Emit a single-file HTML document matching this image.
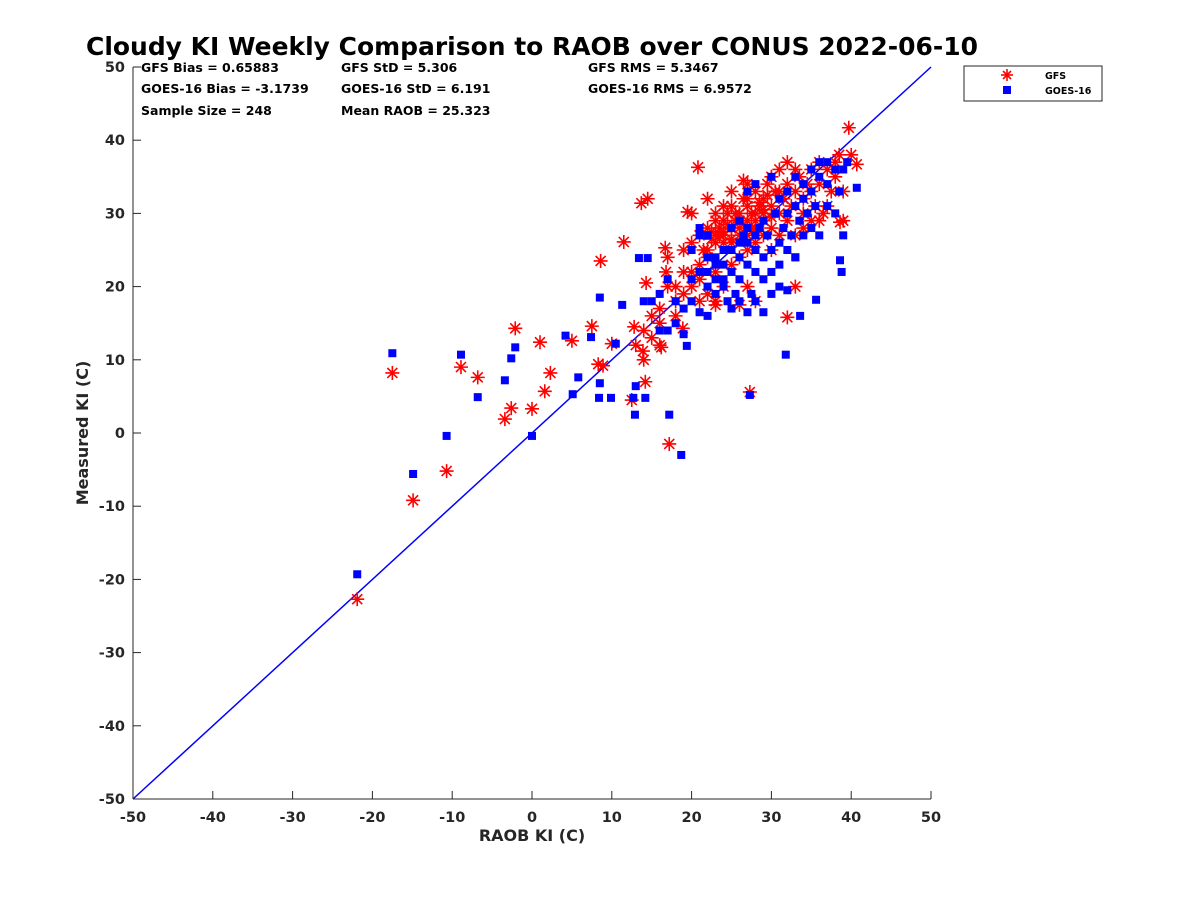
<!DOCTYPE html>
<html><head><meta charset="utf-8"><style>
body{margin:0;background:#fff;}
svg{display:block;font-family:"DejaVu Sans","Liberation Sans",sans-serif;}
</style></head><body>
<svg id="chart" width="1200" height="900">
<text x="532" y="55" text-anchor="middle" font-size="25" textLength="892" lengthAdjust="spacingAndGlyphs" font-weight="bold" fill="#000">Cloudy KI Weekly Comparison to RAOB over CONUS 2022-06-10</text>
<g font-size="12.5" font-weight="bold" fill="#000">
<text x="141" y="72">GFS Bias = 0.65883</text>
<text x="341" y="72">GFS StD = 5.306</text>
<text x="588" y="72">GFS RMS = 5.3467</text>
<text x="141" y="93">GOES-16 Bias = -3.1739</text>
<text x="341" y="93">GOES-16 StD = 6.191</text>
<text x="588" y="93">GOES-16 RMS = 6.9572</text>
<text x="141" y="115">Sample Size = 248</text>
<text x="341" y="115">Mean RAOB = 25.323</text>
</g>
<g id="plot"></g>
<g>
<rect x="964" y="66" width="138" height="35" fill="#fff" stroke="#262626" stroke-width="1"/>
<g stroke="#ff0000" stroke-width="1.6">
<line x1="1007" y1="69" x2="1007" y2="81"/><line x1="1001" y1="75" x2="1013" y2="75"/><line x1="1003" y1="71" x2="1011" y2="79"/><line x1="1003" y1="79" x2="1011" y2="71"/></g>
<rect x="1003" y="86" width="8" height="8" fill="#0000ff"/>
<text x="1045" y="79" font-size="9.5" font-weight="bold">GFS</text>
<text x="1045" y="94" font-size="9.5" font-weight="bold">GOES-16</text>
</g>
</svg>
<script>
const xTicks=[-50,-40,-30,-20,-10,0,10,20,30,40,50];
const yTicks=[-50,-40,-30,-20,-10,0,10,20,30,40,50];
const gfsX=[-21.9,-17.5,-14.9,-10.7,-8.9,-6.8,-3.4,-2.6,-2.1,0,1.0,1.6,2.3,5.0,7.5,8.3,8.6,8.9,10,11.5,12.5,12.8,13.9,13.7,14.5,14.2,14.3,16.2,16.7,17.2,16.8,18.9,19.5,20.8,27.3,32,33,39.7,40.7,38.6,
20,21,21.5,22,22.5,23,23,23.5,24,24,24.5,25,25,25.5,26,26,26.5,26.5,27,27,27.5,28,28,28.5,29,29,29.5,30,30,30.5,31,31,31.5,32,32,32.5,33,33,33.5,34,34,34.5,35,35,35.5,36,36,36.5,37,37.5,38,38,38.5,39,39,40,22,23,24,25,26,26,27,28,23,21,20,19,18,17,17,16,15,14,13,16,18,19,20,22,24,25,27,29,31,28,30,32,33,34,36,37,35,30,27,26,29,31,28,27,25,24,23,22,21,20,19,18,15,14,16,21,22,23,
22.5,23.5,24.5,25.5,26.5,27.5,28.5,29.5,24,26,28,25,27,29,23,30];
const gfsY=[-22.7,8.2,-9.2,-5.2,9.0,7.6,1.9,3.4,14.3,3.3,12.4,5.7,8.2,12.6,14.6,9.4,23.5,9.2,12.2,26.1,4.5,14.5,11.2,31.4,32,7.0,20.5,11.7,25.3,-1.5,22,14.3,30.2,36.3,5.6,15.8,20,41.7,36.7,28.8,
26,27,25,28,26.5,29,27,28,29,26,30,28,31,29,27,30,32,34.5,29,31,28,30,33,31,29,32,34,31,28,33,30,36,32,34,29,31,33,36,35,32,30,34,36,33,31,37,34,30,36,33,37,35,38,33,29,38,24,22,20,23,24,17.5,20,18,18,21,22,22,18,24,20,15,13,10,12,17,20,25,30,32,31,33,34,27,27,26,35,37,27,28,29,31,29,25,25,28,30,33,29,27,26,27,26,25,23,20,19,16,16,14,12,18,19,17.5,
27.5,27,28.5,30,28.5,30,31.5,32.5,27.5,29,28,26.5,32,30.5,30,29.5];
const goesX=[-21.9,-17.5,-14.9,-10.7,-8.9,-6.8,-3.4,-2.6,-2.1,0,4.2,5.1,5.8,7.4,8.5,8.5,8.4,9.9,10.5,11.3,12.7,12.9,13,13.4,14.2,14.5,17.2,18.7,19.4,27.3,31.8,33.6,35.6,38.6,38.8,40.7,
20,21,21,22,22,23,23,24,24,24.5,25,25,25.5,26,26,26.5,27,27,27.5,28,28,28.5,29,29,29.5,30,30,30.5,31,31,31.5,32,32,32.5,33,33,33.5,34,34,34.5,35,35,35.5,36,36,37,37,38,38,38.5,39,39.5,39,30,28,27,29,31,32,33,26,25,24,23,22,21,20,19,18,17,16,15,14,16,17,18,19,20,21,22,26,27,28,30,31,32,33,34,35,36,37,28,29,26,24,23,22,25,27];
const goesY=[-19.3,10.9,-5.6,-0.4,10.7,4.9,7.2,10.2,11.7,-0.4,13.3,5.3,7.6,13.1,18.5,6.8,4.8,4.8,12.2,17.5,4.8,2.5,6.4,23.9,4.8,23.9,2.5,-3,11.9,5.2,10.7,16,18.2,23.6,22,33.5,
21,22,27,20,24,19,23,21,25,18,22,28,19,24,21,27,23,26,19,22,25,28,24,21,27,25,22,30,26,23,28,25,30,27,31,24,29,32,27,30,33,28,31,35,27,34,31,36,30,33,36,37,27,19,18,16.5,16.5,20,19.5,24,18,17,20,24,16,16.5,18,17,18,21,19,18,18,14,14,15,13.5,25,28,27,29,33,34,35,32,33,35,34,36,37,37,27,29,26,23,21,22,25,28];

const L=133,R=931,T=67,B=799;
const sx=v=>L+(v+50)/100*(R-L);
const sy=v=>B-(v+50)/100*(B-T);
const NS='http://www.w3.org/2000/svg';
const g=document.getElementById('plot');
function mk(tag,attrs,parent){const e=document.createElementNS(NS,tag);for(const k in attrs)e.setAttribute(k,attrs[k]);(parent||g).appendChild(e);return e;}

const idl=mk('line',{x1:sx(-50),y1:sy(-50),x2:sx(50),y2:sy(50),stroke:'#0000ff','stroke-width':1.5});



const gg=mk('g',{stroke:'#ff0000','stroke-width':1.6});


for(let i=0;i<gfsX.length;i++){
  const cx=sx(gfsX[i]),cy=sy(gfsY[i]),r=7,d=5;
  const p=mk('path',{d:`M${cx},${cy-r}V${cy+r}M${cx-r},${cy}H${cx+r}M${cx-d},${cy-d}L${cx+d},${cy+d}M${cx-d},${cy+d}L${cx+d},${cy-d}`},gg);
  
  
}
const bg=mk('g',{fill:'#0000ff'});


for(let i=0;i<goesX.length;i++){
  const s=mk('rect',{x:sx(goesX[i])-4,y:sy(goesY[i])-4,width:8,height:8},bg);
  
  
}
const ax=mk('g',{stroke:'#262626','stroke-width':1,fill:'none'});


mk('line',{x1:L,y1:B,x2:R,y2:B},ax);
mk('line',{x1:L,y1:T,x2:L,y2:B},ax);
xTicks.forEach(v=>{
  mk('line',{x1:sx(v),y1:B,x2:sx(v),y2:B-8},ax);
  const t=mk('text',{x:sx(v),y:B+23,'text-anchor':'middle','font-size':14.5,'font-weight':'bold',fill:'#262626'});
  t.textContent=v;
  
  
});
yTicks.forEach(v=>{
  mk('line',{x1:L,y1:sy(v),x2:L+8,y2:sy(v)},ax);
  const t=mk('text',{x:L-8,y:sy(v)+5,'text-anchor':'end','font-size':14.5,'font-weight':'bold',fill:'#262626'});
  t.textContent=v;
  
  
});
const xt=mk('text',{x:532,y:841,'text-anchor':'middle','font-size':16,'font-weight':'bold',fill:'#262626'});
xt.textContent='RAOB KI (C)';


const yt=mk('text',{x:0,y:0,'text-anchor':'middle','font-size':16,'font-weight':'bold',fill:'#262626',transform:'translate(88,433) rotate(-90)'});
yt.textContent='Measured KI (C)';


</script>
</body></html>
